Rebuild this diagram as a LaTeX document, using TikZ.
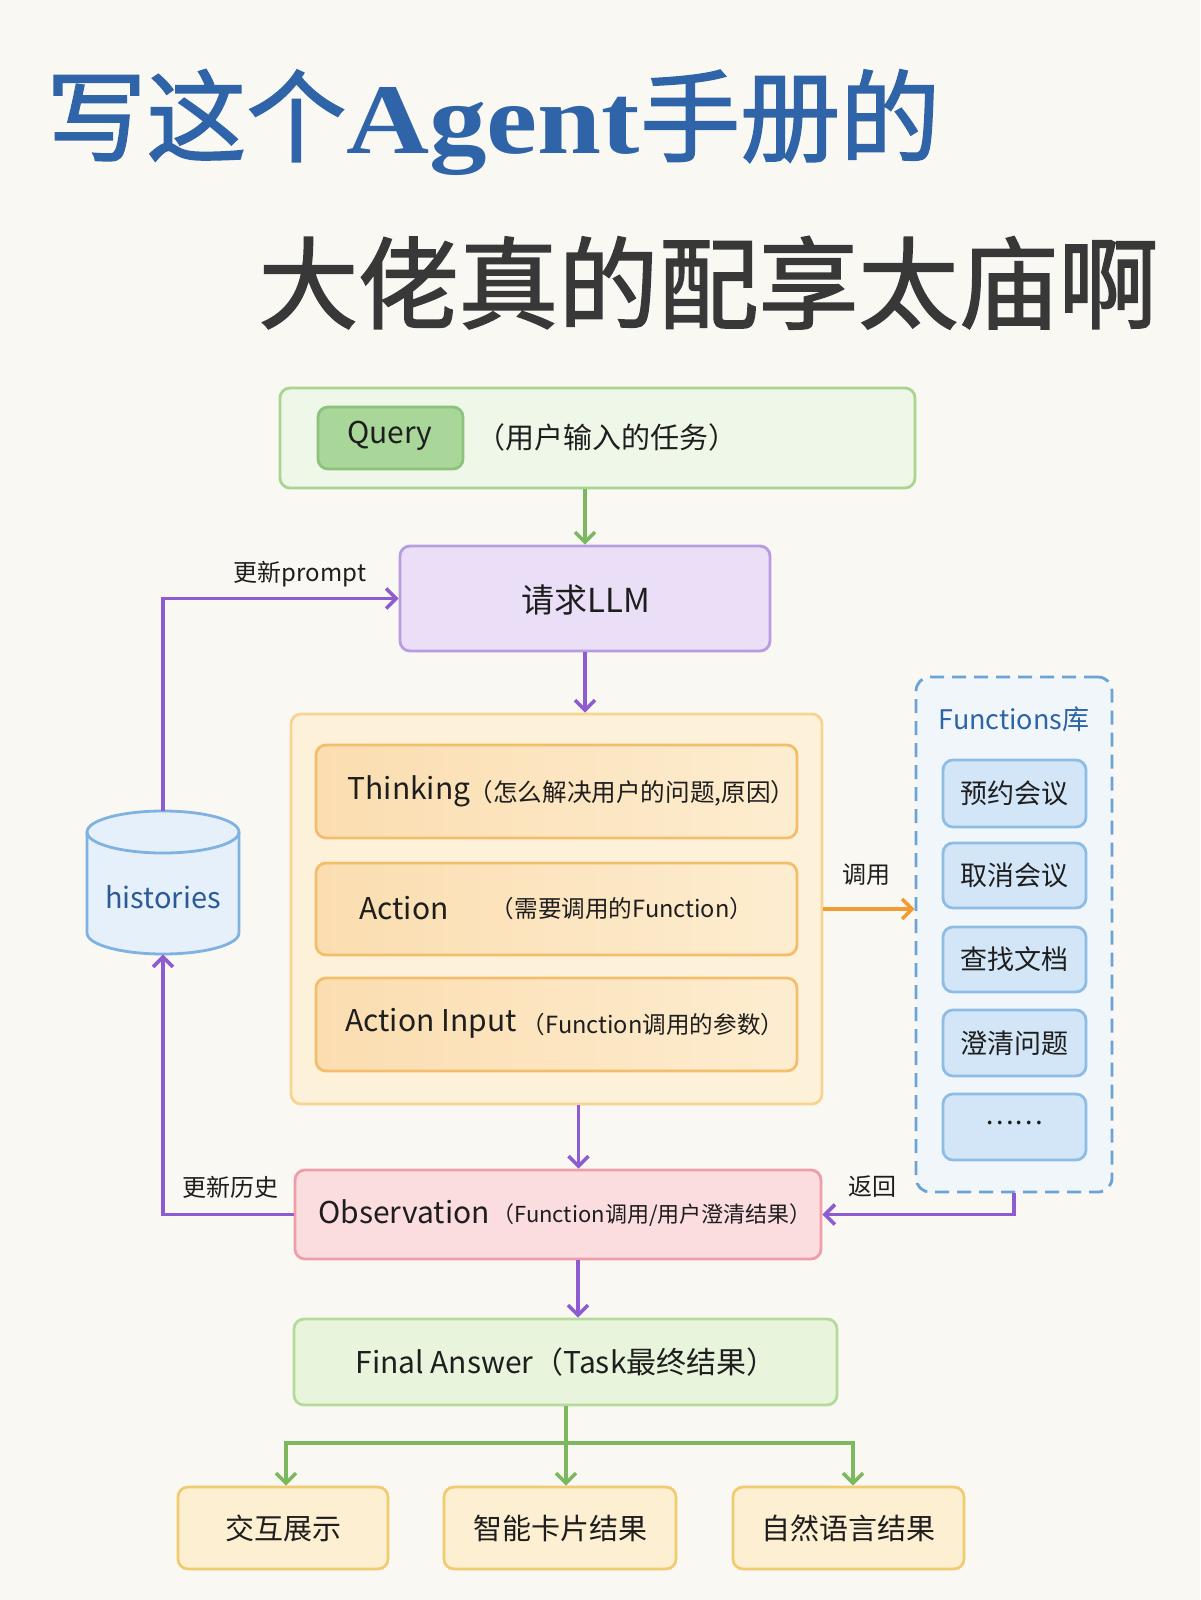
\documentclass[tikz,border=0pt]{standalone}
\usepackage{graphicx}
\usepackage{fontspec}
\setmainfont{Noto Sans CJK SC}
\newfontfamily\latinserif{Liberation Serif}
\newfontfamily\titlefont[FakeBold=1.6]{Noto Sans CJK SC}
\usetikzlibrary{arrows.meta,calc,fit}
\definecolor{bg}{HTML}{FAF8F3}
\definecolor{tblue}{HTML}{2F64A8}
\definecolor{tdark}{HTML}{383838}
\definecolor{gborder}{HTML}{A8D58F}
\definecolor{gfill}{HTML}{EFF8E8}
\definecolor{qinfill}{HTML}{A9D79A}
\definecolor{qinborder}{HTML}{8DC27D}
\definecolor{garrow}{HTML}{7CB85E}
\definecolor{purp}{HTML}{8C5CD0}
\definecolor{llmfill}{HTML}{EADFF7}
\definecolor{llmborder}{HTML}{B89BE0}
\definecolor{ofill}{HTML}{FDF1DA}
\definecolor{oborder}{HTML}{F7D48F}
\definecolor{oinL}{HTML}{FBDDB0}
\definecolor{oinR}{HTML}{FDEDD0}
\definecolor{oinborder}{HTML}{F2BE6C}
\definecolor{oarrow}{HTML}{F29A33}
\definecolor{bdash}{HTML}{6BA3D6}
\definecolor{bdfill}{HTML}{F1F6FB}
\definecolor{bfill}{HTML}{D3E6F7}
\definecolor{bborder}{HTML}{8DBCE5}
\definecolor{btext}{HTML}{2C64A6}
\definecolor{hfill}{HTML}{E5F0FA}
\definecolor{hborder}{HTML}{7FB2E0}
\definecolor{htext}{HTML}{2C5A96}
\definecolor{rfill}{HTML}{FBDDE0}
\definecolor{rborder}{HTML}{EE9EA8}
\definecolor{ffill}{HTML}{E8F5DC}
\definecolor{fborder}{HTML}{B5DB9A}
\definecolor{yfill}{HTML}{FDF0D2}
\definecolor{yborder}{HTML}{F1CB72}
\definecolor{ink}{HTML}{1E1E1E}
\begin{document}
\begin{tikzpicture}[x=0.5pt,y=-0.5pt,
  every node/.style={inner sep=0pt, text=ink},
  boxbase/.style={rounded corners=5pt, line width=1.4pt},
  qouter/.style={boxbase, draw=gborder, fill=gfill},
  qinner/.style={boxbase, draw=qinborder, fill=qinfill},
  llmbox/.style={boxbase, draw=llmborder, fill=llmfill},
  bigbox/.style={boxbase, draw=oborder, fill=ofill},
  stepbox/.style={boxbase, draw=oinborder, left color=oinL, right color=oinR},
  funcframe/.style={rounded corners=7pt, line width=1.4pt, draw=bdash, fill=bdfill, dash pattern=on 7pt off 4pt},
  funcbox/.style={boxbase, draw=bborder, fill=bfill},
  obsbox/.style={boxbase, draw=rborder, fill=rfill},
  finalbox/.style={boxbase, draw=fborder, fill=ffill},
  outbox/.style={boxbase, draw=yborder, fill=yfill},
  tip/.style={-{Straight Barb[length=5pt,width=10pt,line width=1.8pt]}},
  garr/.style={tip, draw=garrow, line width=1.8pt},
  parr/.style={tip, draw=purp, line width=1.8pt},
  oarr/.style={tip, draw=oarrow, line width=1.8pt},
  lat/.style={font=\fontsize{15pt}{18pt}\selectfont},
  lbl/.style={font=\fontsize{12pt}{14pt}\selectfont},
]
\fill[bg] (0,0) rectangle (1200,1600);
\useasboundingbox (0,0) rectangle (1200,1600);

% titles
\node[anchor=base west, text=tblue, font=\fontsize{50pt}{60pt}\selectfont\titlefont] (t1) at (46,154)
  {写这个{\latinserif\bfseries\scalebox{1.15}[1]{Agent}}手册的};
\node[anchor=base west, text=tdark, font=\fontsize{50pt}{60pt}\selectfont\titlefont] (t2) at (258,321)
  {大佬真的配享太庙啊};

% query
\node[qouter, fit={(280,388)(915,488)}] (q) {};
\node[qinner, fit={(318,407)(463,469)}] (qin) {};
\node[lat] (qt) at (390,436) {Query};
\node[font=\fontsize{14.5pt}{17pt}\selectfont] (qp) at (607,437) {（用户输入的任务）};

% LLM
\node[llmbox, fit={(400,546)(770,651)}] (llm) {};
\node[font=\fontsize{16.5pt}{19pt}\selectfont] (llmt) at (586,600) {请求LLM};

% big container
\node[bigbox, fit={(291,714)(822,1104)}] (big) {};
\node[stepbox, fit={(316,745)(797,838)}] (s1) {};
\node[stepbox, fit={(316,863)(797,955)}] (s2) {};
\node[stepbox, fit={(316,978)(797,1071)}] (s3) {};
\node[lat] (s1a) at (409,791) {Thinking};
\node[font=\fontsize{12.3pt}{14pt}\selectfont] (s1b) at (632,793) {（怎么解决用户的问题,原因）};
\node[lat] (s2a) at (404,908) {Action};
\node[font=\fontsize{11.8pt}{14pt}\selectfont] (s2b) at (622,909) {（需要调用的Function）};
\node[lat] (s3a) at (431,1023) {Action Input};
\node[font=\fontsize{11.8pt}{14pt}\selectfont] (s3b) at (653,1025) {（Function调用的参数）};

% functions
\node[funcframe, fit={(916,677)(1112,1192)}] (func) {};
\node[text=btext, font=\fontsize{13.5pt}{16pt}\selectfont] (funct) at (1014,719) {Functions库};
\node[funcbox, fit={(943,760)(1086,827)}] (f1) {};
\node[funcbox, fit={(943,843)(1086,908)}] (f2) {};
\node[funcbox, fit={(943,927)(1086,992)}] (f3) {};
\node[funcbox, fit={(943,1010)(1086,1076)}] (f4) {};
\node[funcbox, fit={(943,1094)(1086,1160)}] (f5) {};
\node[font=\fontsize{13.5pt}{16pt}\selectfont] (f1t) at (f1) {预约会议};
\node[font=\fontsize{13.5pt}{16pt}\selectfont] (f2t) at (f2) {取消会议};
\node[font=\fontsize{13.5pt}{16pt}\selectfont] (f3t) at (f3) {查找文档};
\node[font=\fontsize{13.5pt}{16pt}\selectfont] (f4t) at (f4) {澄清问题};
\node[font=\fontsize{13.5pt}{16pt}\selectfont] (f5t) at ($(f5)+(0,-4)$) {……};

% histories cylinder
\node[fit={(87,811)(239,954)}] (hist) {};
\draw[line width=1.4pt, draw=hborder, fill=hfill]
  (87,832) -- (87,933) arc[start angle=180, end angle=360, x radius=38pt, y radius=10.5pt]
  -- (239,832) arc[start angle=0, end angle=180, x radius=38pt, y radius=10.5pt] -- cycle;
\draw[line width=1.4pt, draw=hborder]
  (87,832) arc[start angle=180, end angle=360, x radius=38pt, y radius=10.5pt];
\node[text=htext, font=\fontsize{14.5pt}{17pt}\selectfont] (histt) at (163,897) {histories};

% observation
\node[obsbox, fit={(295,1170)(821,1259)}] (obs) {};
\node[lat] (obsa) at (404,1212) {Observation};
\node[font=\fontsize{11pt}{13pt}\selectfont] (obsb) at (652,1215) {（Function调用/用户澄清结果）};

% final
\node[finalbox, fit={(294,1319)(837,1405)}] (final) {};
\node[font=\fontsize{15pt}{18pt}\selectfont] (finalt) at (566,1362) {Final Answer（Task最终结果）};

% outputs
\node[outbox, fit={(178,1487)(388,1569)}] (o1) {};
\node[outbox, fit={(444,1487)(676,1569)}] (o2) {};
\node[outbox, fit={(733,1487)(964,1569)}] (o3) {};
\node[font=\fontsize{14.5pt}{17pt}\selectfont] (o1t) at (o1) {交互展示};
\node[font=\fontsize{14.5pt}{17pt}\selectfont] (o2t) at (o2) {智能卡片结果};
\node[font=\fontsize{14.5pt}{17pt}\selectfont] (o3t) at (o3) {自然语言结果};

% labels
\node[lbl] (l1) at (300,574) {更新prompt};
\node[lbl] (l2) at (866,875) {调用};
\node[lbl] (l3) at (230,1187) {更新历史};
\node[lbl] (l4) at (872,1187) {返回};

% connectors
\draw[garr] (llm.north |- q.south) -- (llm.north);
\draw[parr] (llm.south) -- (llm.south |- big.north);
\coordinate (bigout) at ($(big.south)+(22,0)$);
\draw[parr] (bigout) -- (bigout |- obs.north);
\coordinate (obsout) at ($(obs.south)+(20,0)$);
\draw[parr] (obsout) -- (obsout |- final.north);
\draw[oarr] (big.east) -- (big.east -| func.west);
\draw[parr] (hist.north) |- (llm.west);
\draw[parr] (obs.west) -| (hist.south);
\draw[parr] (func.south) |- (obs.east);
\coordinate (split) at (566,1443);
\draw[line width=1.8pt, draw=garrow] (final.south -| split) -- (split);
\draw[garr] (split) -| (o1.north -| 286,0);
\draw[garr] (split) -| (o3.north -| 853,0);
\draw[garr] (split) -- (o2.north -| split);
\end{tikzpicture}
\end{document}
